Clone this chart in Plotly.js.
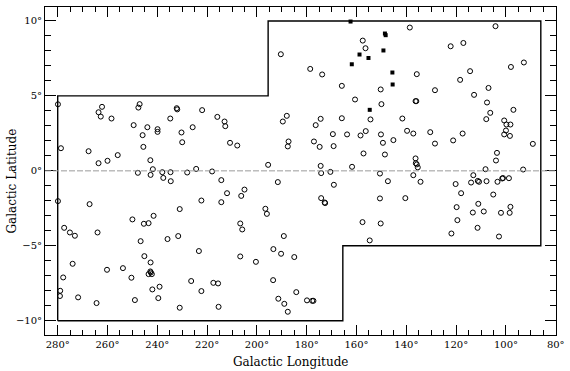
<!DOCTYPE html>
<html><head><meta charset="utf-8">
<script src="https://cdn.plot.ly/plotly-3.0.1.min.js"></script>
<style>html,body{margin:0;padding:0;background:#fff}#chart{width:570px;height:371px}</style>
</head><body><div id="chart"></div>
<script>
// Open circles: galactic longitude / latitude (degrees)
const circleLon = [
279.9,278.7,267.6,263.6,262.2,262.7,258.4,263.6,260.0,255.9,249.5,247.6,247.1,244.0,245.9,245.6,239.9,239.9,
247.8,242.8,242.7,241.8,238.0,237.6,234.8,232.2,232.0,230.3,230.0,234.7,234.6,228.0,225.8,224.4,
157.5,156.4,190.4,178.6,173.8,165.9,150.3,160.6,150.0,154.4,222.0,215.9,213.0,212.7,210.8,207.9,
188.0,189.6,187.3,187.6,174.4,176.4,177.1,174.8,169.5,169.2,165.9,163.8,158.4,156.3,157.2,150.2,149.4,148.6,
218.0,214.3,205.0,195.5,191.6,174.4,174.2,170.5,169.1,161.8,150.6,147.4,
138.6,135.8,136.3,136.0,141.6,139.7,137.2,145.2,136.3,136.2,135.8,135.4,137.2,134.3,128.5,130.4,128.5,
122.2,117.1,114.4,118.4,112.8,107.0,107.6,106.3,107.9,104.2,98.0,92.8,97.0,100.7,99.8,98.2,100.0,100.7,98.4,
117.4,121.2,89.2,103.6,104.0,108.2,93.1,113.1,114.0,111.3,110.8,107.8,103.4,101.5,101.2,98.8,120.2,
150.6,140.4,118.0,105.1,150.3,119.8,111.1,113.3,108.9,119.5,111.4,121.9,102.8,102.0,98.5,98.2,
279.9,267.2,277.4,275.1,273.1,264.0,274.0,277.8,279.0,279.1,271.8,264.4,260.2,253.8,250.4,249.0,
250.0,245.4,243.5,241.5,246.7,245.2,242.7,242.8,242.6,243.5,242.2,242.0,239.1,239.6,235.9,231.6,231.0,231.0,226.4,223.3,
222.3,212.0,214.3,206.3,196.6,196.0,174.2,172.8,172.6,206.7,205.9,206.7,200.4,193.4,190.3,189.2,185.0,
222.3,217.5,215.6,215.4,193.5,191.4,189.0,187.6,184.2,179.9,177.8,177.3,157.6,154.7
];
const circleLat = [
4.44,1.51,1.31,3.91,4.27,3.62,3.49,0.51,0.67,1.05,3.05,4.22,4.45,2.91,2.38,1.60,2.78,2.60,
-0.13,0.71,-0.27,0.11,-0.09,-0.47,3.49,4.18,4.10,2.56,1.91,-0.09,-0.69,-0.11,2.91,0.13,
8.69,8.18,7.78,6.80,6.43,5.67,5.43,4.76,4.45,3.43,4.05,3.60,3.29,2.98,1.87,1.69,
3.67,3.29,1.96,1.63,3.47,3.05,1.96,1.60,2.45,1.65,3.51,2.43,2.36,2.65,1.16,2.43,1.87,1.09,
-0.04,-0.62,-1.25,0.40,-0.75,0.33,-0.15,-0.07,-0.93,0.27,-0.18,-0.69,
9.56,6.45,4.65,4.65,3.49,2.67,2.49,2.05,0.83,0.51,0.43,0.23,-0.29,-0.73,5.38,2.58,1.82,
8.31,8.53,6.65,6.07,5.07,5.53,4.56,3.87,3.45,9.65,6.93,7.23,4.07,3.36,3.09,3.09,2.69,2.43,2.33,
2.49,2.03,1.80,1.20,0.69,0.11,0.09,-0.29,-0.78,-0.67,-0.73,-0.69,-0.73,-0.51,-0.48,-0.49,-0.88,
-1.84,-1.82,-1.49,-1.58,-3.51,-2.42,-2.20,-2.78,-2.71,-3.29,-3.80,-4.18,-4.38,-2.80,-2.80,-2.40,
-2.02,-2.22,-3.80,-4.11,-4.33,-4.11,-6.20,-7.11,-8.00,-8.35,-8.44,-8.82,-6.60,-6.49,-7.13,-8.62,
-3.24,-3.53,-3.49,-3.00,-4.69,-5.69,-6.11,-6.71,-6.78,-6.89,-6.89,-7.91,-7.73,-8.49,-4.55,-4.35,-2.55,-9.13,-7.35,-5.35,
-1.98,-1.49,-2.09,-1.67,-2.53,-2.87,-1.82,-2.11,-2.15,-3.51,-3.91,-5.71,-6.07,-5.22,-5.53,-4.35,-5.75,
-8.02,-7.47,-7.51,-9.07,-7.29,-8.53,-8.87,-9.40,-8.09,-8.64,-8.67,-8.67,-3.42,-4.64
];
// Filled squares
const squareLon = [162.4,148.6,148.3,149.2,158.8,155.2,161.9,145.6,145.5,154.7];
const squareLat = [9.96,9.16,9.05,8.03,7.76,7.53,7.11,6.56,5.76,4.07];
// Survey boundary
const boundaryLon = [280,280,195.5,195.5,86,86,165.5,165.5,280];
const boundaryLat = [-10,5,5,10,10,-5,-5,-10,-10];
const xTitle = 'Galactic Longitude';
const yTitle = 'Galactic Latitude';

const font = {family:'DejaVu Serif', size:10, color:'#000'};
const titleFont = {family:'DejaVu Serif', size:12, color:'#000'};
const traces = [
  {x:boundaryLon, y:boundaryLat, mode:'lines', line:{color:'#000', width:1.4}, hoverinfo:'skip'},
  {x:circleLon, y:circleLat, mode:'markers', type:'scatter',
   marker:{symbol:'circle-open', size:5, color:'#000', line:{width:1, color:'#000'}}},
  {x:squareLon, y:squareLat, mode:'markers', type:'scatter',
   marker:{symbol:'square', size:4, color:'#000'}}
];
const layout = {
  width:570, height:371,
  margin:{l:45, r:14, t:7, b:36},
  paper_bgcolor:'#fff', plot_bgcolor:'#fff',
  showlegend:false, font:font,
  xaxis:{range:[285.1,79.9], tick0:80, dtick:20, ticksuffix:'°', ticks:'inside', ticklen:10, tickwidth:1,
    tickcolor:'#000', minor:{dtick:5, tick0:80, ticks:'inside', ticklen:5, tickcolor:'#000'},
    showline:true, linecolor:'#000', linewidth:1, mirror:'ticks', showgrid:false, zeroline:false,
    automargin:false, tickfont:font},
  yaxis:{range:[-10.95,10.93], tick0:0, dtick:5, ticksuffix:'°', ticks:'inside', ticklen:11, tickwidth:1,
    tickcolor:'#000', minor:{dtick:1, tick0:0, ticks:'inside', ticklen:6, tickcolor:'#000'},
    showline:true, linecolor:'#000', linewidth:1, mirror:'ticks', showgrid:false, zeroline:false,
    automargin:false, tickfont:font},
  annotations:[
    {text:xTitle, xref:'paper', yref:'paper', x:0.4795, y:-0.0823, xanchor:'center', yanchor:'middle',
     showarrow:false, font:titleFont},
    {text:yTitle, xref:'paper', yref:'paper', x:-0.0636, y:0.4695, xanchor:'center', yanchor:'middle',
     textangle:-90, showarrow:false, font:titleFont}
  ],
  shapes:[{type:'line', xref:'paper', x0:0, x1:1, yref:'y', y0:0, y1:0,
    line:{color:'#9a9a9a', width:1, dash:'6px,2px'}}]
};
Plotly.newPlot('chart', traces, layout, {staticPlot:true, displayModeBar:false});
</script></body></html>
